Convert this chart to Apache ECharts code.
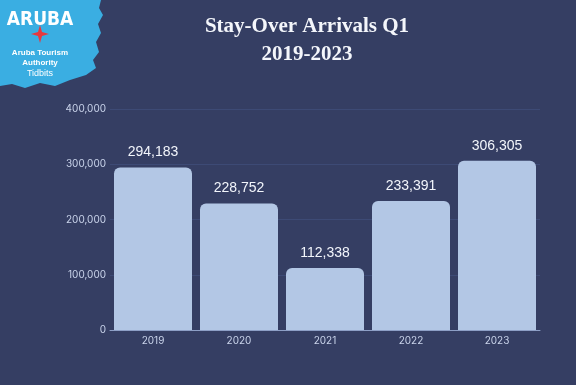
<!DOCTYPE html>
<html><head><meta charset="utf-8">
<script src="https://cdn.jsdelivr.net/npm/echarts@6/dist/echarts.min.js"></script>
<style>html,body{margin:0;padding:0;background:#353e63;}#c{width:576px;height:385px;}</style>
</head><body><div id="c"></div>
<script>
const categories = ['2019','2020','2021','2022','2023'];
const arrivals = [294183, 228752, 112338, 233391, 306305];
const yTicks = [0, 100000, 200000, 300000, 400000];

const chart = echarts.init(document.getElementById('c'), null, {renderer:'canvas'});
const fmt = v => v.toLocaleString('en-US');
chart.setOption({
  backgroundColor: '#353e63',
  animation: false,
  title: {
    text: 'Stay-Over Arrivals Q1\n2019-2023',
    left: 302, top: 8, textAlign: 'center',
    textStyle: {color:'#f4f6fb', fontFamily:'"Liberation Serif", serif', fontWeight:'bold', fontSize:21, lineHeight:28}
  },
  grid: {left:110, right:36, top:109, bottom:55},
  xAxis: {
    type:'category', data:categories,
    axisLine:{lineStyle:{color:'#8d9fc6', width:1}},
    axisTick:{show:false},
    axisLabel:{color:'#c9d3ea', fontSize:10, fontFamily:'Inter, sans-serif', margin:6}
  },
  yAxis: {
    type:'value', min:yTicks[0], max:yTicks[yTicks.length-1], interval:100000,
    axisLine:{show:false}, axisTick:{show:false},
    splitLine:{lineStyle:{color:'#3d4a75', width:1}},
    axisLabel:{color:'#c9d3ea', fontSize:10, fontFamily:'Inter, sans-serif', margin:4, formatter: v => fmt(v)}
  },
  series: [{
    type:'bar', data:arrivals, barWidth:78,
    itemStyle:{color:'#b3c7e5', borderRadius:[6,6,0,0]},
    label:{show:true, position:'top', distance:8, color:'#f2f5fb', fontSize:14, fontFamily:'"Liberation Sans", Arial, sans-serif', formatter: p => fmt(p.value)}
  }],
  graphic: [
    {type:'polygon', shape:{points:[[0,0],[101,0],[99,8],[103,15],[98,24],[101,33],[96,42],[99,52],[93,60],[96,68],[86,75],[70,80],[55,86],[40,83],[25,88],[12,84],[0,86]]}, style:{fill:'#3aaee2'}},
    {type:'text', x:40, y:11, style:{text:'ARUBA', fill:'#ffffff', font:'bold 19px "DejaVu Sans Condensed", "DejaVu Sans", sans-serif', align:'center'}},
    {type:'polygon', shape:{points:[[40,25],[42,32],[49,34],[42,36],[40,43],[38,36],[31,34],[38,32]]}, style:{fill:'#e8383d'}},
    {type:'text', x:40, y:48, style:{text:'Aruba Tourism\nAuthority', fill:'#ffffff', font:'bold 8px "Liberation Sans", sans-serif', align:'center', lineHeight:10}},
    {type:'text', x:40, y:69, style:{text:'Tidbits', fill:'#ffffff', font:'9px "Liberation Sans", sans-serif', align:'center'}}
  ]
});
</script></body></html>
